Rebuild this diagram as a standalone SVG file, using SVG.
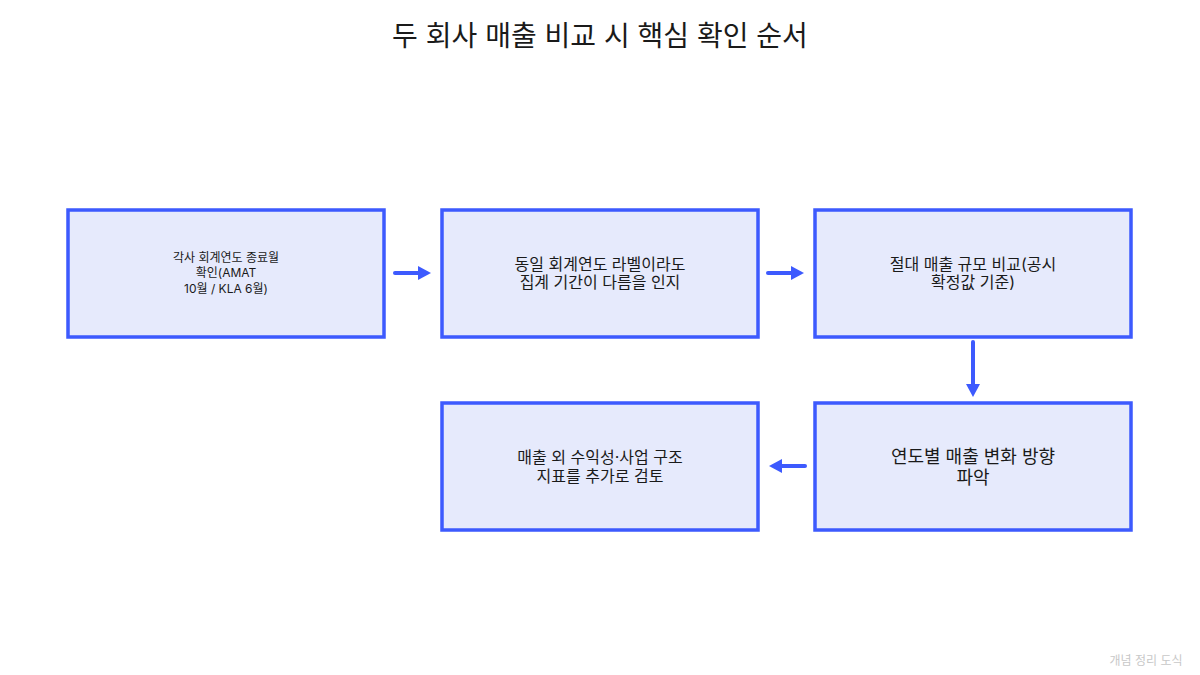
<svg xmlns="http://www.w3.org/2000/svg" width="1200" height="675" viewBox="0 0 1200 675">
<style>
text{font-family:Inter,"Noto Sans","Noto Sans CJK KR",sans-serif;fill:#1a1a1a;text-anchor:middle}
.n rect{fill:#e6eafc;stroke:#3d5afe;stroke-width:3.5}
.t{font-size:16px}
.c line{stroke:#3d5afe;stroke-width:4;stroke-linecap:round}
.c path{fill:#3d5afe}
</style>
<rect width="1200" height="675" fill="#fff"/>
<text x="600" y="46" style="font-size:28px">두 회사 매출 비교 시 핵심 확인 순서</text>
<g id="n1" class="n"><rect x="68" y="210" width="316" height="127"/>
<text x="226" y="262" style="font-size:12px">각사 회계연도 종료월</text><text x="226" y="277" style="font-size:12px">확인(AMAT</text><text x="226" y="293" style="font-size:12px">10월 / KLA 6월)</text></g>
<g id="n2" class="n"><rect x="442" y="210" width="316" height="127"/>
<text class="t" x="600" y="270">동일 회계연도 라벨이라도</text><text class="t" x="600" y="288">집계 기간이 다름을 인지</text></g>
<g id="n3" class="n"><rect x="815" y="210" width="316" height="127"/>
<text class="t" x="973" y="270">절대 매출 규모 비교(공시</text><text class="t" x="973" y="288">확정값 기준)</text></g>
<g id="n4" class="n"><rect x="815" y="403" width="316" height="127"/>
<text x="973" y="463" style="font-size:18px">연도별 매출 변화 방향</text><text x="973" y="484" style="font-size:18px">파악</text></g>
<g id="n5" class="n"><rect x="442" y="403" width="316" height="127"/>
<text class="t" x="600" y="463">매출 외 수익성·사업 구조</text><text class="t" x="600" y="482">지표를 추가로 검토</text></g>
<g id="connectors" class="c">
<line x1="395" y1="273" x2="420" y2="273"/><path d="M431 273 L418 266 L418 280Z"/>
<line x1="768" y1="273" x2="793" y2="273"/><path d="M804 273 L791 266 L791 280Z"/>
<line x1="973" y1="342" x2="973" y2="386"/><path d="M973 397 L966 384 L980 384Z"/>
<line x1="805" y1="466" x2="780" y2="466"/><path d="M769 466 L782 459 L782 473Z"/>
</g>
<text x="1146" y="665" style="font-size:12px;fill:#c8c8c8">개념 정리 도식</text>
</svg>
